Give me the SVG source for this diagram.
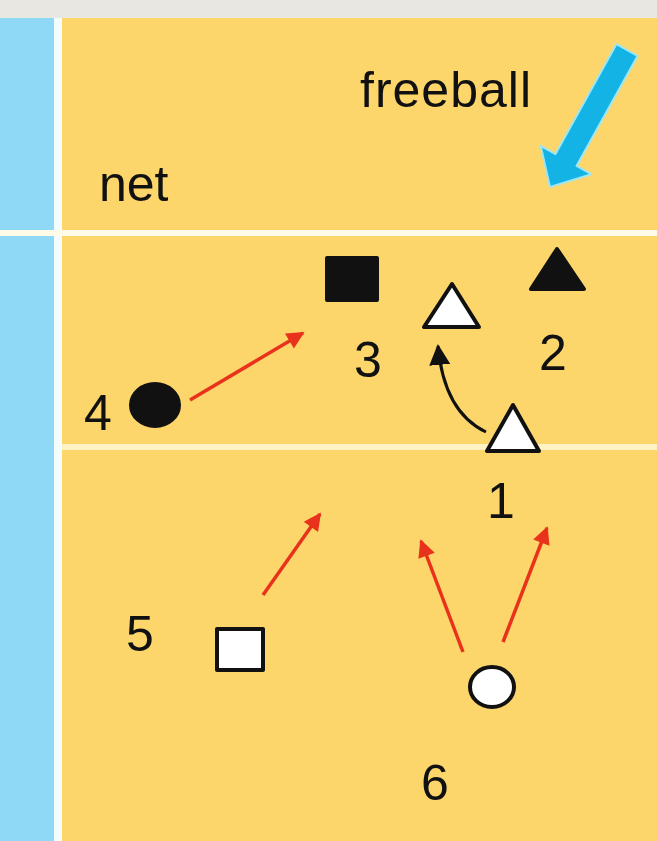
<svg xmlns="http://www.w3.org/2000/svg" width="657" height="841" viewBox="0 0 657 841">
<defs>
<style>
.lbl{font-family:"Liberation Sans",Arial,sans-serif;font-size:50px;fill:#111}
.red{stroke:#e8321c;stroke-width:3.5;fill:none;marker-end:url(#rh)}
.blk{stroke:#111;stroke-width:3;fill:none;marker-end:url(#bh)}
.pl{stroke:#111;stroke-width:4;stroke-linejoin:round}
</style>
<marker id="rh" viewBox="0 0 10 10" refX="9" refY="5" markerWidth="6" markerHeight="5" markerUnits="strokeWidth" orient="auto"><path d="M0,0 L10,5 L0,10 z" fill="#e8321c"/></marker>
<marker id="bh" viewBox="0 0 10 10" refX="9" refY="5" markerWidth="7" markerHeight="7" markerUnits="strokeWidth" orient="auto"><path d="M0,0 L10,5 L0,10 z" fill="#111"/></marker>
</defs>
<g id="court">
<rect x="0" y="0" width="657" height="841" fill="#fdd66b"/>
<rect x="0" y="0" width="657" height="18" fill="#e9e7e2"/>
<rect x="0" y="18" width="55" height="823" fill="#8fd9f6"/>
<rect x="54" y="18" width="8" height="823" fill="#f4fdfd"/>
<rect x="0" y="230" width="657" height="6" fill="#fffbe6"/>
<rect x="62" y="444" width="595" height="6" fill="#fff3c4"/>
</g>
<g id="freeball-arrow">
<polygon points="637.5,55.9 616.5,44.1 555.5,154.1 540.7,145.8 550,187 591.3,174.2 576.5,165.9" fill="#14b3e6" stroke="#9fe6f2" stroke-width="2" stroke-linejoin="round"/>
</g>
<g id="labels">
<text class="lbl" x="360" y="107" font-size="55" letter-spacing="1">freeball</text>
<text class="lbl" x="99" y="201" font-size="53">net</text>
</g>
<g id="connectors">
<path class="blk" d="M486,432 Q444,412 438,346"/>
<line class="red" x1="190" y1="400" x2="303" y2="333"/>
<line class="red" x1="263" y1="595" x2="320" y2="514"/>
<line class="red" x1="463" y1="652" x2="421" y2="541"/>
<line class="red" x1="503" y1="642" x2="547" y2="528"/>
</g>
<g id="p1">
<polygon class="pl" points="513,405 487,451 539,451" fill="#fff"/>
<text class="lbl" x="487" y="518">1</text>
</g>
<g id="p2">
<polygon class="pl" points="557,249 531,289 584,289" fill="#111"/>
<text class="lbl" x="539" y="370">2</text>
</g>
<g id="p3">
<rect class="pl" x="327" y="258" width="50" height="42" fill="#111"/>
<text class="lbl" x="354" y="377">3</text>
</g>
<g id="p3b">
<polygon class="pl" points="452,284 424,327 479,327" fill="#fff"/>
</g>
<g id="p4">
<ellipse class="pl" cx="155" cy="405" rx="24" ry="21" fill="#111"/>
<text class="lbl" x="84" y="430">4</text>
</g>
<g id="p5">
<rect class="pl" x="217" y="629" width="46" height="41" fill="#fff"/>
<text class="lbl" x="126" y="651">5</text>
</g>
<g id="p6">
<ellipse class="pl" cx="492" cy="687" rx="22" ry="20" fill="#fff"/>
<text class="lbl" x="421" y="800">6</text>
</g>
</svg>
